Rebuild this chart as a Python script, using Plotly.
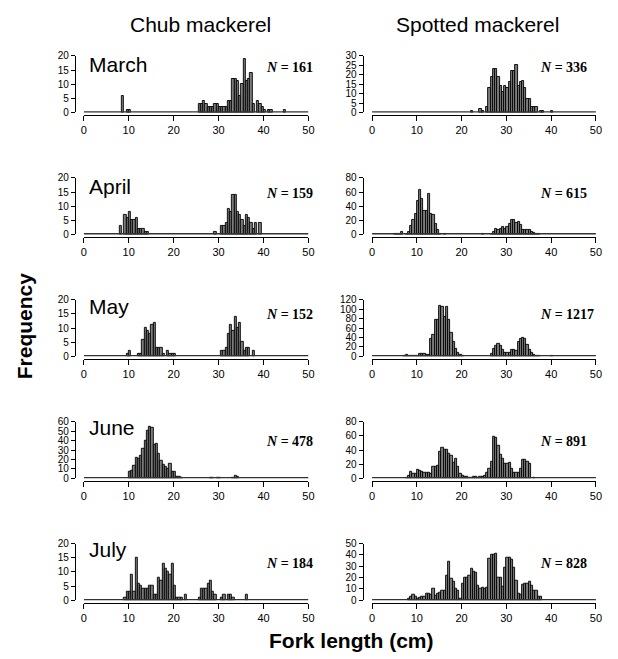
import plotly.graph_objects as go

# ---------------- data (bin start in cm, 0.5 cm bins) ----------------
months = ["March", "April", "May", "June", "July"]
species = ["Chub mackerel", "Spotted mackerel"]

chub_march_len = [8.5, 9.5, 10.0, 25.5, 26.0, 26.5, 27.0, 27.5, 28.0, 28.5, 29.0, 29.5, 30.0, 30.5, 31.0, 31.5,
                  32.0, 32.5, 33.0, 33.5, 34.0, 34.5, 35.0, 35.5, 36.0, 36.5, 37.0, 37.5, 38.5, 39.0, 39.5, 40.0,
                  41.0, 41.5, 44.5]
chub_march_n = [6, 1, 1, 3, 3, 4, 3, 2, 2, 2, 3, 3, 2, 2, 2, 2,
                4, 4, 12, 12, 11, 6, 10, 19, 11, 12, 14, 3, 4, 3, 2, 1,
                1, 1, 1]

chub_april_len = [8.0, 9.0, 9.5, 10.0, 10.5, 11.0, 11.5, 12.0, 12.5, 13.0, 13.5, 14.0,
                  29.0, 30.5, 31.0, 31.5, 32.0, 32.5, 33.0, 33.5, 34.0, 34.5, 35.0, 35.5, 36.0, 36.5,
                  37.0, 37.5, 38.0, 39.0]
chub_april_n = [3, 7, 6, 8, 5, 5, 6, 2, 2, 2, 1, 1,
                1, 3, 3, 4, 9, 8, 14, 14, 8, 7, 5, 3, 7, 6,
                4, 2, 4, 4]

chub_may_len = [9.5, 10.0, 12.0, 12.5, 13.0, 13.5, 14.0, 14.5, 15.0, 15.5, 16.0, 16.5, 17.0, 17.5, 18.5, 19.0,
                19.5, 20.0, 30.5, 31.0, 31.5, 32.0, 32.5, 33.0, 33.5, 34.0, 34.5, 35.0, 35.5, 36.0, 36.5, 37.5]
chub_may_n = [1, 2, 1, 1, 6, 10, 9, 8, 11, 12, 3, 3, 3, 1, 2, 1,
              1, 1, 2, 2, 3, 8, 11, 9, 14, 10, 12, 5, 2, 3, 3, 2]

chub_june_len = [10.0, 10.5, 11.0, 11.5, 12.0, 12.5, 13.0, 13.5, 14.0, 14.5, 15.0, 15.5, 16.0, 16.5, 17.0, 17.5,
                 18.0, 18.5, 19.0, 19.5, 20.0, 20.5, 21.0, 21.5, 28.0, 28.5, 29.5, 30.0, 33.0, 33.5, 34.0]
chub_june_n = [7, 8, 13, 22, 21, 24, 31, 40, 50, 55, 54, 36, 37, 26, 19, 14,
               12, 10, 15, 7, 7, 2, 2, 1, 1, 1, 1, 1, 1, 3, 2]

chub_july_len = [9.0, 9.5, 10.0, 10.5, 11.0, 11.5, 12.0, 12.5, 13.0, 13.5, 14.0, 14.5, 15.0, 15.5, 16.0, 16.5,
                 17.0, 17.5, 18.0, 18.5, 19.0, 19.5, 20.0, 20.5, 21.0, 21.5, 22.5, 25.5, 26.0, 26.5, 27.0, 27.5,
                 28.0, 28.5, 29.0, 30.5, 31.0, 32.0, 32.5, 33.0, 36.0]
chub_july_n = [1, 3, 3, 9, 3, 15, 6, 5, 4, 4, 4, 5, 5, 2, 2, 8,
               7, 13, 11, 10, 9, 13, 5, 1, 1, 1, 2, 1, 4, 4, 4, 6,
               7, 3, 2, 1, 2, 2, 2, 1, 2]

spot_march_len = [22.0, 24.0, 24.5, 25.5, 26.0, 26.5, 27.0, 27.5, 28.0, 28.5, 29.0, 29.5, 30.0, 30.5, 31.0, 31.5,
                  32.0, 32.5, 33.0, 33.5, 34.0, 34.5, 35.0, 35.5, 36.0, 36.5, 37.5, 38.0, 40.0]
spot_march_n = [1, 2, 1, 3, 13, 19, 23, 23, 19, 14, 11, 14, 13, 16, 22, 22,
                25, 14, 16, 17, 13, 7, 7, 3, 3, 3, 1, 1, 1]

spot_april_len = [5.0, 5.5, 6.0, 6.5, 7.5, 8.0, 8.5, 9.0, 9.5, 10.0, 10.5, 11.0, 11.5, 12.0, 12.5, 13.0,
                  13.5, 14.0, 14.5, 15.0, 16.0, 24.5, 26.5, 27.0, 27.5, 28.0, 28.5, 29.0, 29.5, 30.0, 30.5, 31.0,
                  31.5, 32.0, 32.5, 33.0, 33.5, 34.0, 34.5, 35.0, 35.5, 36.0, 36.5, 37.0]
spot_april_n = [1, 1, 1, 3, 1, 3, 12, 20, 29, 48, 63, 50, 34, 34, 58, 29,
                27, 15, 7, 1, 1, 1, 1, 4, 8, 6, 8, 10, 8, 11, 15, 20,
                20, 16, 18, 13, 7, 6, 7, 7, 3, 2, 1, 1]

spot_may_len = [7.0, 7.5, 8.0, 8.5, 9.0, 9.5, 10.0, 10.5, 11.0, 11.5, 12.0, 12.5, 13.0, 13.5, 14.0, 14.5,
                15.0, 15.5, 16.0, 16.5, 17.0, 17.5, 18.0, 18.5, 19.0, 19.5, 20.0, 26.5, 27.0, 27.5, 28.0, 28.5,
                29.0, 29.5, 30.0, 30.5, 31.0, 31.5, 32.0, 32.5, 33.0, 33.5, 34.0, 34.5, 35.0, 35.5, 36.0, 36.5,
                37.0, 40.0]
spot_may_n = [1, 3, 1, 1, 1, 2, 2, 5, 6, 5, 3, 4, 38, 45, 77, 77,
              107, 105, 84, 105, 77, 50, 30, 16, 8, 4, 1, 5, 15, 22, 27, 22,
              14, 8, 8, 8, 14, 14, 11, 30, 38, 40, 38, 24, 13, 7, 3, 2,
              1, 2]

spot_june_len = [7.5, 8.0, 8.5, 9.0, 9.5, 10.0, 10.5, 11.0, 11.5, 12.0, 12.5, 13.0, 13.5, 14.0, 14.5, 15.0,
                 15.5, 16.0, 16.5, 17.0, 17.5, 18.0, 18.5, 19.0, 19.5, 20.0, 20.5, 21.0, 21.5, 22.0, 22.5, 23.0,
                 23.5, 24.0, 24.5, 25.0, 25.5, 26.0, 26.5, 27.0, 27.5, 28.0, 28.5, 29.0, 29.5, 30.0, 30.5, 31.0,
                 31.5, 32.0, 32.5, 33.0, 33.5, 34.0, 34.5, 35.0, 36.0]
spot_june_n = [1, 4, 9, 6, 7, 12, 10, 9, 8, 8, 8, 6, 17, 17, 18, 37,
               43, 40, 41, 35, 32, 22, 28, 17, 7, 3, 2, 2, 1, 1, 2, 2,
               1, 2, 2, 4, 8, 14, 24, 59, 57, 46, 33, 28, 20, 21, 22, 14,
               8, 8, 8, 14, 26, 26, 23, 21, 1]

spot_july_len = [8.0, 8.5, 9.0, 9.5, 10.0, 10.5, 11.0, 11.5, 12.0, 12.5, 13.0, 13.5, 14.0, 14.5, 15.0, 15.5,
                 16.0, 16.5, 17.0, 17.5, 18.0, 18.5, 19.0, 19.5, 20.0, 20.5, 21.0, 21.5, 22.0, 22.5, 23.0, 23.5,
                 24.0, 24.5, 25.0, 25.5, 26.0, 26.5, 27.0, 27.5, 28.0, 28.5, 29.0, 29.5, 30.0, 30.5, 31.0, 31.5,
                 32.0, 32.5, 33.0, 33.5, 34.0, 34.5, 35.0, 35.5, 36.0, 36.5, 37.0, 37.5]
spot_july_n = [1, 3, 5, 3, 1, 2, 3, 3, 6, 6, 5, 10, 4, 6, 7, 8,
               8, 22, 34, 19, 16, 10, 8, 1, 15, 20, 20, 22, 28, 25, 24, 13,
               10, 11, 10, 11, 37, 40, 40, 41, 20, 20, 12, 29, 38, 38, 36, 29,
               17, 6, 5, 14, 15, 15, 16, 13, 8, 8, 3, 3]

sample_sizes = [[161, 336], [159, 615], [152, 1217], [478, 891], [184, 828]]
y_max = [[20, 30], [20, 80], [20, 120], [60, 80], [20, 50]]
y_step = [[5, 5], [5, 20], [5, 20], [10, 20], [5, 10]]
x_ticks = [0, 10, 20, 30, 40, 50]

panel_data = [
    [(chub_march_len, chub_march_n), (spot_march_len, spot_march_n)],
    [(chub_april_len, chub_april_n), (spot_april_len, spot_april_n)],
    [(chub_may_len, chub_may_n), (spot_may_len, spot_may_n)],
    [(chub_june_len, chub_june_n), (spot_june_len, spot_june_n)],
    [(chub_july_len, chub_july_n), (spot_july_len, spot_july_n)],
]

BIN = 0.5
X_MIN, X_MAX = 0, 50

# ---------------- layout geometry (pixels) ----------------
W, H = 618, 659
col_x0 = [82, 374.5]
col_x1 = [310, 601.7]
col_yaxis = [73, 365]
row_base = [108.3 + 124 * r for r in range(5)]
plot_h = 57.5
xaxis_gap = 2.6
month_y = [59, 184, 306, 429, 553]
n_y = [63, 191, 314, 443, 567]
n_x = [265, 543]

def px(x):
    return x / W

def py(y):
    return 1 - y / H

fig = go.Figure()
layout_axes = {}
annotations = []
tick_font = dict(family="Liberation Sans, Arial, sans-serif", size=11, color="black")

idx = 0
for r in range(5):
    for c in range(2):
        idx += 1
        sfx = "" if idx == 1 else str(idx)
        lens, cnts = panel_data[r][c]
        fig.add_trace(go.Bar(
            x=[l + BIN / 2 for l in lens], y=cnts, width=BIN,
            marker=dict(color="#7c7c7c", line=dict(color="black", width=0.9)),
            xaxis="x" + sfx, yaxis="y" + sfx, cliponaxis=False, showlegend=False,
            hoverinfo="x+y"))
        fig.add_trace(go.Scatter(
            x=[X_MIN, X_MAX], y=[0, 0], mode="lines",
            line=dict(color="#333333", width=2.6),
            xaxis="x" + sfx, yaxis="y" + sfx, cliponaxis=False, showlegend=False,
            hoverinfo="skip"))
        base = row_base[r]
        layout_axes["xaxis" + sfx] = dict(
            domain=[px(col_x0[c]), px(col_x1[c])], range=[X_MIN, X_MAX],
            anchor="free", position=py(base + xaxis_gap),
            tickvals=x_ticks, ticks="outside", ticklen=5, tickwidth=1, tickcolor="black",
            showline=True, linecolor="black", linewidth=1, showgrid=False, zeroline=False,
            tickfont=tick_font, fixedrange=True)
        ym = y_max[r][c]
        layout_axes["yaxis" + sfx] = dict(
            domain=[py(base), py(base - plot_h)], range=[0, ym],
            anchor="free", position=px(col_yaxis[c]),
            tickvals=list(range(0, ym + 1, y_step[r][c])), ticks="outside", ticklen=4,
            tickwidth=1, tickcolor="black", showline=True, linecolor="black", linewidth=1,
            showgrid=False, zeroline=False,
            tickfont=dict(family="Liberation Sans, Arial, sans-serif", size=10, color="black"),
            fixedrange=True)
        annotations.append(dict(
            x=px(n_x[c]), y=py(n_y[r]), xref="paper", yref="paper", xanchor="left", yanchor="middle",
            text="<b><i>N</i> = %d</b>" % sample_sizes[r][c], showarrow=False,
            font=dict(family="Liberation Serif, Times New Roman, serif", size=14, color="black")))
    annotations.append(dict(
        x=px(85), y=py(month_y[r]), xref="paper", yref="paper", xanchor="left", yanchor="middle",
        text=months[r], showarrow=False,
        font=dict(family="Liberation Sans, Arial, sans-serif", size=21, color="black")))

annotations.append(dict(x=px(200), y=py(19), xref="paper", yref="paper", xanchor="center", yanchor="middle",
                        text=species[0], showarrow=False,
                        font=dict(family="Liberation Sans, Arial, sans-serif", size=21, color="black")))
annotations.append(dict(x=px(482), y=py(19), xref="paper", yref="paper", xanchor="center", yanchor="middle",
                        text=species[1], showarrow=False,
                        font=dict(family="Liberation Sans, Arial, sans-serif", size=21, color="black")))
annotations.append(dict(x=px(22), y=py(325), xref="paper", yref="paper", xanchor="center", yanchor="middle",
                        text="<b>Frequency</b>", textangle=-90, showarrow=False,
                        font=dict(family="Liberation Sans, Arial, sans-serif", size=21, color="black")))
annotations.append(dict(x=px(354), y=py(645), xref="paper", yref="paper", xanchor="center", yanchor="middle",
                        text="<b>Fork length (cm)</b>", showarrow=False,
                        font=dict(family="Liberation Sans, Arial, sans-serif", size=21, color="black")))

fig.update_layout(
    width=W, height=H, autosize=False,
    margin=dict(l=0, r=0, t=0, b=0),
    paper_bgcolor="white", plot_bgcolor="white",
    bargap=0, showlegend=False,
    annotations=annotations,
    **layout_axes)

fig.write_html("out.html", config={"displayModeBar": False},
               post_script="document.body.style.margin='0';document.body.style.overflow='hidden';")
